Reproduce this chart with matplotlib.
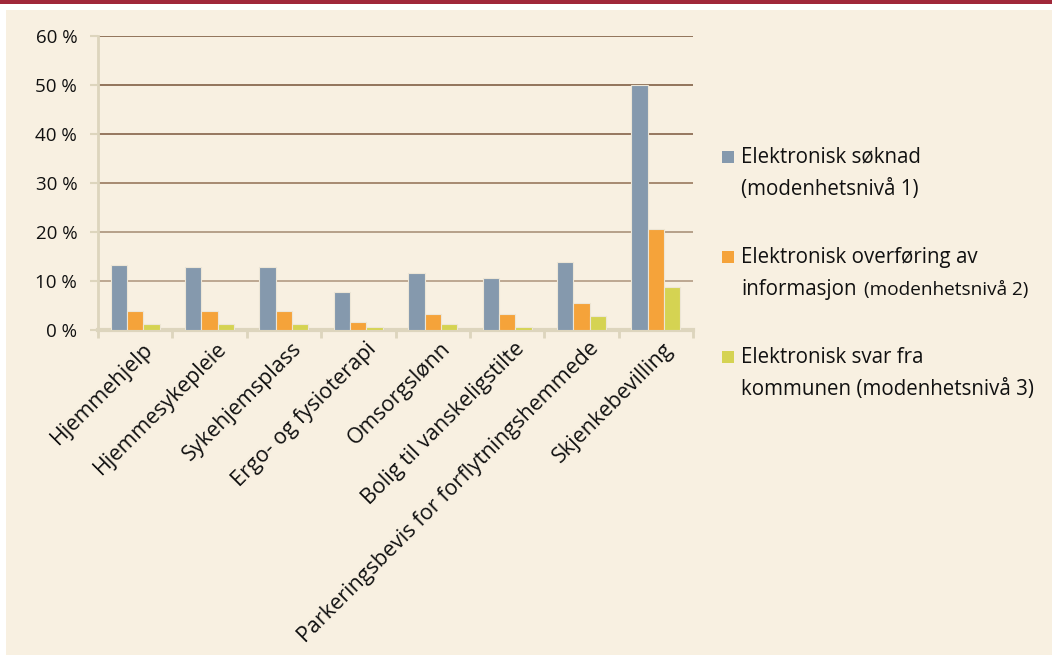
import matplotlib
matplotlib.use("Agg")
import matplotlib.pyplot as plt
import matplotlib.transforms as mtransforms
from matplotlib.patches import Rectangle
import numpy as np

categories = ["Hjemmehjelp", "Hjemmesykepleie", "Sykehjemsplass", "Ergo- og fysioterapi",
              "Omsorgslønn", "Bolig til vanskeligstilte",
              "Parkeringsbevis for forflytningshemmede", "Skjenkebevilling"]
soknad = [13.3, 12.8, 12.8, 7.8, 11.7, 10.6, 13.9, 50.0]
overforing = [3.9, 3.9, 3.9, 1.7, 3.3, 3.3, 5.6, 20.5]
svar = [1.2, 1.2, 1.2, 0.6, 1.2, 0.6, 2.8, 8.8]
series_names = [("Elektronisk søknad", "(modenhetsnivå 1)"),
                ("Elektronisk overføring av", "informasjon", "(modenhetsnivå 2)"),
                ("Elektronisk svar fra", "kommunen (modenhetsnivå 3)")]
yticks = [0, 10, 20, 30, 40, 50, 60]
ytick_labels = ["0 %", "10 %", "20 %", "30 %", "40 %", "50 %", "60 %"]

colors = ["#8599AD", "#F5A33A", "#D5D352"]
bg = "#F8F0E1"
W, H = 1052, 655

plt.rcParams['font.family'] = ['Open Sans', 'DejaVu Sans']
fig = plt.figure(figsize=(W / 100, H / 100), dpi=100)
fig.patch.set_facecolor("white")

def fx(px):
    return px / W

def fy(py):
    return 1 - py / H

# background panel and top band
fig.patches.append(Rectangle((fx(6), 0), 1 - fx(6), fy(10), transform=fig.transFigure,
                             facecolor=bg, edgecolor="none", zorder=-10))
fig.patches.append(Rectangle((0, fy(4)), 1, 1 - fy(4), transform=fig.transFigure,
                             facecolor="#A0283A", edgecolor="none", zorder=-10))

ax = fig.add_axes([fx(98), fy(330), fx(693) - fx(98), fy(35.7) - fy(330)])
ax.set_facecolor("none")

x = np.arange(len(categories))
bw = 0.22
for i, vals in enumerate([soknad, overforing, svar]):
    ax.bar(x + (i - 1) * bw, vals, width=bw, color=colors[i],
           edgecolor="#EDE6D6", linewidth=0.8, zorder=3)

ax.set_xlim(-0.5, len(categories) - 0.5)
ax.set_ylim(0, 60)
ax.set_yticks(yticks)
ax.set_yticklabels(ytick_labels, fontsize=13.5, color="#111111")
ax.tick_params(axis='y', length=6, width=1.5, color="#DDD5BD", pad=9)

ax.set_xticks(x)
ax.set_xticklabels(categories, rotation=45, ha='right', rotation_mode='anchor',
                   fontsize=15.5, color="#111111")
ax.tick_params(axis='x', which='major', length=0, pad=6)
offset = mtransforms.ScaledTranslation(7 / 100, 0, fig.dpi_scale_trans)
for lab in ax.get_xticklabels():
    lab.set_transform(lab.get_transform() + offset)
ax.set_xticks(np.arange(-0.5, len(categories)), minor=True)
ax.tick_params(axis='x', which='minor', length=6, width=2, color="#DDD5BD")

for s in ["top", "right"]:
    ax.spines[s].set_visible(False)
ax.spines["left"].set_color("#DDD5BD")
ax.spines["left"].set_linewidth(2)
ax.spines["bottom"].set_color("#DDD5BD")
ax.spines["bottom"].set_linewidth(3)

grid_colors = {10: "#B8A28B", 20: "#B19A82", 30: "#A08268", 40: "#8E6E55", 50: "#8A6A50", 60: "#8A6A50"}
for v in yticks[1:]:
    ax.axhline(v, color=grid_colors[v], linewidth=1.3, zorder=1)

# legend (manual, to reproduce mixed font sizes)
fs = 14.8
sq = 12
item_baselines = [162.7, 262.7, 362.7]
renderer = fig.canvas.get_renderer()
for i, base in enumerate(item_baselines):
    fig.patches.append(Rectangle((fx(722), fy(base)), fx(722 + sq) - fx(722), fy(base - sq) - fy(base),
                                 transform=fig.transFigure, facecolor=colors[i], edgecolor="none"))
    names = series_names[i]
    fig.text(fx(741), fy(base), names[0], fontsize=fs, va='baseline', ha='left', color="#111111")
    if len(names) == 2:
        fig.text(fx(741), fy(base + 32), names[1], fontsize=fs, va='baseline', ha='left', color="#111111")
    else:
        t = fig.text(fx(741), fy(base + 32), names[1], fontsize=fs, va='baseline', ha='left', color="#111111")
        bb = t.get_window_extent(renderer=renderer)
        fig.text(fx(bb.x1 + 8), fy(base + 32), names[2], fontsize=13.7, va='baseline', ha='left',
                 color="#111111")

fig.savefig("out.png", dpi=100, facecolor=fig.get_facecolor())
